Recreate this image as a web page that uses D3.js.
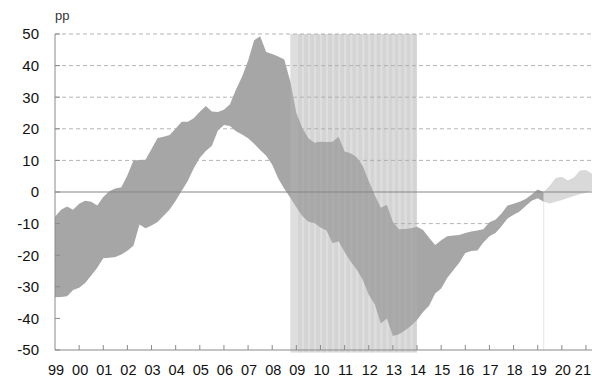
<!DOCTYPE html>
<html>
<head>
<meta charset="utf-8">
<script src="https://cdn.jsdelivr.net/npm/d3@7/dist/d3.min.js"></script>
<style>
  html, body { margin: 0; padding: 0; background: #fff; }
  svg { display: block; }
  text { font-family: "Liberation Sans", Arial, Helvetica, sans-serif; }
</style>
</head>
<body>
<svg id="chart" width="592" height="378"></svg>
<script>
// Quarterly range of the estimate, 1999Q1 .. 2021Q2 (percentage points)
const upperBound = [
  -7.8, -5.6, -4.6, -5.6, -3.7, -2.8, -3.1, -4.3, -1.6, 0.2,
  1.1, 1.5, 5.3, 10.0, 10.1, 10.2, 13.6, 17.1, 17.5, 18.0,
  20.1, 22.2, 22.2, 23.3, 25.4, 27.2, 25.5, 25.3, 26.0, 27.8,
  32.4, 36.5, 41.5, 48.0, 49.3, 44.3, 43.7, 42.9, 41.9, 35.0,
  25.0, 20.2, 17.0, 15.6, 15.9, 15.8, 15.9, 17.5, 12.8, 12.3,
  11.0, 8.2, 3.5, -1.0, -5.0, -4.0, -9.5, -11.8, -11.7, -11.5,
  -11.0, -12.0, -14.5, -16.8, -15.3, -14.0, -13.8, -13.6, -13.0, -12.5,
  -12.2, -11.8, -9.6, -8.8, -6.8, -4.3, -3.7, -3.1, -2.2, -0.8,
  0.8, 0.0, 2.0, 4.4, 4.8, 3.6, 4.6, 6.8, 7.0, 5.8
];
const lowerBound = [
  -33.3, -33.2, -33.0, -31.0, -30.3, -28.8, -26.4, -24.0, -21.0, -20.8,
  -20.6, -19.8, -18.6, -17.0, -10.3, -11.5, -10.6, -9.5, -7.5, -5.5,
  -2.8, 0.4, 3.5, 7.5, 10.8, 13.0, 14.6, 19.5, 21.2, 20.9,
  19.2, 18.2, 17.0, 15.3, 13.3, 11.5, 8.6, 4.3, 1.0, -1.8,
  -4.8, -7.6, -9.4, -9.8, -11.2, -12.2, -16.2, -15.6, -19.0, -22.0,
  -24.5, -27.8, -32.5, -35.5, -41.6, -40.0, -45.6, -45.0, -43.8, -42.3,
  -40.5, -38.0, -36.0, -32.1, -30.5, -27.2, -24.8, -22.4, -19.3, -18.7,
  -18.5, -16.0, -14.0, -13.0, -10.8, -8.4, -7.2, -6.2, -4.4, -2.8,
  -2.0, -3.1, -3.6, -3.1, -2.5, -1.9, -1.3, -0.7, -0.2, 0.4
];
const firstYear = 1999;
const projectionStart = 2019.25;      // lighter band from here on
const crisisPeriod = [2008.75, 2014.0]; // shaded period

const yTicks = [50, 40, 30, 20, 10, 0, -10, -20, -30, -40, -50];
const gridValues = [50, 40, 30, 20, 10];
const yearTicks = [1999, 2000, 2001, 2002, 2003, 2004, 2005, 2006, 2007, 2008, 2009,
  2010, 2011, 2012, 2013, 2014, 2015, 2016, 2017, 2018, 2019, 2020, 2021];
const yearLabels = ["99", "00", "01", "02", "03", "04", "05", "06", "07", "08", "09",
  "10", "11", "12", "13", "14", "15", "16", "17", "18", "19", "20", "21"];

const rows = upperBound.map((u, i) => ({ t: firstYear + i / 4, hi: u, lo: lowerBound[i] }));

const svg = d3.select("#chart");
const plotLeft = 55, plotRight = 592, plotTop = 34, plotBottom = 350;

const x = d3.scaleLinear().domain([1999, 2021.25]).range([plotLeft, plotRight]);
const y = d3.scaleLinear().domain([-50, 50]).range([plotBottom, plotTop]);

const gridColor = "#b4b4b4";
const axisColor = "#8a8a8a";

// dashed horizontal gridlines
svg.append("g").selectAll("line").data(gridValues).join("line")
  .attr("x1", plotLeft).attr("x2", plotRight)
  .attr("y1", d => y(d)).attr("y2", d => y(d))
  .attr("stroke", gridColor).attr("stroke-width", 1)
  .attr("stroke-dasharray", "4,3");
svg.append("line")
  .attr("x1", x(2012.75)).attr("x2", x(2017.0))
  .attr("y1", y(-10)).attr("y2", y(-10))
  .attr("stroke", gridColor).attr("stroke-width", 1)
  .attr("stroke-dasharray", "4,3");

// marker of the projection start
svg.append("line")
  .attr("x1", x(projectionStart)).attr("x2", x(projectionStart))
  .attr("y1", y(0)).attr("y2", y(-50))
  .attr("stroke", "#e4e4e4").attr("stroke-width", 1);

const area = d3.area()
  .x(d => x(d.t))
  .y0(d => y(d.lo))
  .y1(d => y(d.hi));

const past = rows.filter(d => d.t <= projectionStart);
const proj = rows.filter(d => d.t >= projectionStart);

svg.append("path").datum(past).attr("d", area).attr("fill", "#a6a6a6");
svg.append("path").datum(proj).attr("d", area).attr("fill", "#d9d9d9");

// shaded crisis period, quarterly stripes
const quarters = d3.range(crisisPeriod[0], crisisPeriod[1] - 0.01, 0.25);
const shade = svg.append("g");
const qw = x(crisisPeriod[0] + 0.25) - x(crisisPeriod[0]);
shade.append("rect")
  .attr("x", x(crisisPeriod[0])).attr("width", x(crisisPeriod[1]) - x(crisisPeriod[0]))
  .attr("y", y(50)).attr("height", y(-50.8) - y(50))
  .attr("fill", "#b4b4b4").attr("opacity", 0.44);
shade.selectAll("rect.q").data(quarters.slice(1)).join("rect")
  .attr("class", "q")
  .attr("x", d => x(d) + 1.8)
  .attr("width", qw - 2.4)
  .attr("y", y(50)).attr("height", y(-50.8) - y(50))
  .attr("fill", "#8c8c8c").attr("opacity", 0.12);

// zero line
svg.append("line")
  .attr("x1", plotLeft).attr("x2", plotRight)
  .attr("y1", y(0)).attr("y2", y(0))
  .attr("stroke", "#858585").attr("stroke-width", 1);

// axes
svg.append("line").attr("x1", plotLeft).attr("x2", plotLeft).attr("y1", y(50)).attr("y2", plotBottom)
  .attr("stroke", axisColor).attr("stroke-width", 1);
svg.append("line").attr("x1", plotLeft).attr("x2", plotRight).attr("y1", plotBottom).attr("y2", plotBottom)
  .attr("stroke", axisColor).attr("stroke-width", 1);

svg.append("g").selectAll("line").data(yTicks).join("line")
  .attr("x1", plotLeft).attr("x2", plotLeft + 5)
  .attr("y1", d => y(d)).attr("y2", d => y(d))
  .attr("stroke", axisColor);
svg.append("g").selectAll("text").data(yTicks).join("text")
  .attr("x", 39).attr("y", d => y(d) + 5.3)
  .attr("text-anchor", "end")
  .attr("font-size", 15).attr("fill", "#111")
  .text(d => d);

// year labels; the last one is kept inside the right edge
const lastIdx = yearTicks.length - 1;
svg.append("g").selectAll("text").data(yearTicks).join("text")
  .attr("x", (d, i) => i === lastIdx ? 591 : x(d) + 1).attr("y", 374.5)
  .attr("text-anchor", (d, i) => i === lastIdx ? "end" : "middle")
  .attr("font-size", 14.5).attr("fill", "#111")
  .text((d, i) => yearLabels[i]);
svg.append("g").selectAll("line").data(yearTicks.slice(1)).join("line")
  .attr("x1", d => x(d)).attr("x2", d => x(d))
  .attr("y1", plotBottom).attr("y2", plotBottom - 5)
  .attr("stroke", axisColor);

svg.append("text").attr("x", 55).attr("y", 20)
  .attr("font-size", 13).attr("fill", "#333").text("pp");
</script>
</body>
</html>
